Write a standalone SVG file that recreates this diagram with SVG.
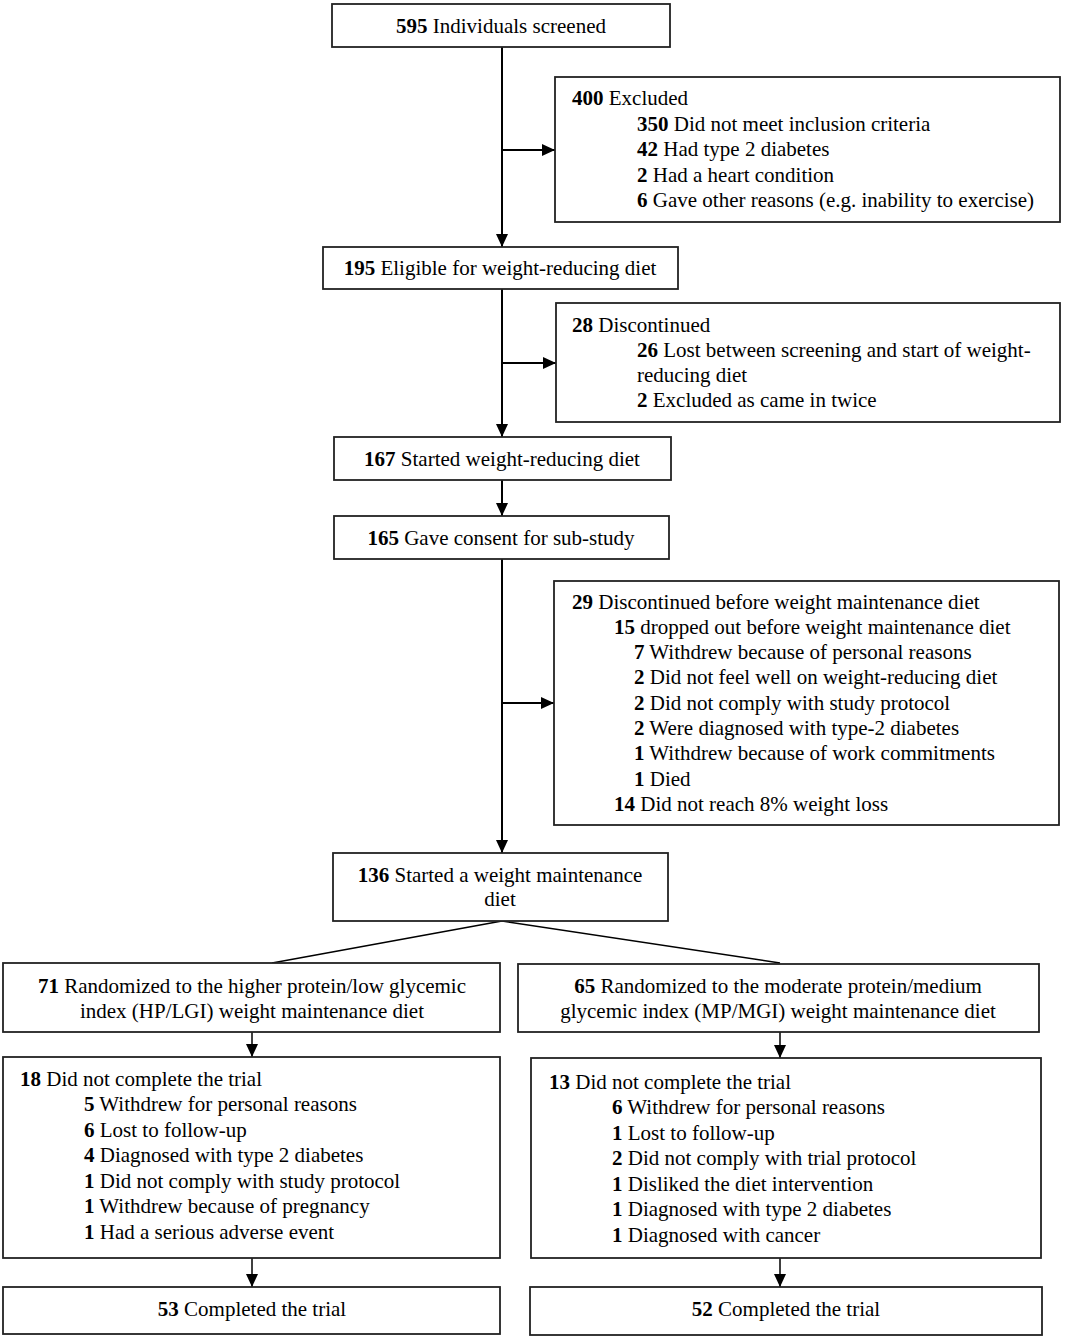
<svg xmlns="http://www.w3.org/2000/svg" width="1065" height="1339" viewBox="0 0 1065 1339">
<style>
.box{fill:#fff;stroke:#222;stroke-width:1.8}
.ln{fill:none;stroke:#000;stroke-width:2}
.ln2{fill:none;stroke:#000;stroke-width:1.5}
text{font-family:"Liberation Serif","Times New Roman",serif;font-size:21px;fill:#000}
.c{text-anchor:middle}
.b{font-weight:bold}
</style>
<defs>
<marker id="ah" markerUnits="userSpaceOnUse" markerWidth="14" markerHeight="12" refX="13" refY="6" orient="auto">
<path d="M0,0 L13,6 L0,12 z" fill="#000"/>
</marker>
</defs>
<rect width="1065" height="1339" fill="#fff"/>
<g id="connectors">
<line class="ln" x1="502" y1="47" x2="502" y2="247" marker-end="url(#ah)"/>
<line class="ln" x1="502" y1="150" x2="555" y2="150" marker-end="url(#ah)"/>
<line class="ln" x1="502" y1="289" x2="502" y2="437" marker-end="url(#ah)"/>
<line class="ln" x1="502" y1="363" x2="556" y2="363" marker-end="url(#ah)"/>
<line class="ln" x1="502" y1="480" x2="502" y2="516" marker-end="url(#ah)"/>
<line class="ln" x1="502" y1="559" x2="502" y2="853" marker-end="url(#ah)"/>
<line class="ln" x1="502" y1="703" x2="554" y2="703" marker-end="url(#ah)"/>
<line class="ln2" x1="502" y1="921" x2="272" y2="963"/>
<line class="ln2" x1="502" y1="921" x2="780" y2="963"/>
<line class="ln2" x1="252" y1="1032" x2="252" y2="1057" marker-end="url(#ah)"/>
<line class="ln2" x1="780" y1="1032" x2="780" y2="1058" marker-end="url(#ah)"/>
<line class="ln2" x1="252" y1="1258" x2="252" y2="1287" marker-end="url(#ah)"/>
<line class="ln2" x1="780" y1="1258" x2="780" y2="1287" marker-end="url(#ah)"/>
</g>
<g id="n595">
<rect class="box" x="332" y="4" width="338" height="43"/>
<text class="c" x="501" y="33"><tspan class="b">595</tspan> Individuals screened</text>
</g>
<g id="n400">
<rect class="box" x="555" y="77" width="505" height="145"/>
<text x="572" y="105"><tspan class="b">400</tspan> Excluded</text>
<text x="637" y="131"><tspan class="b">350</tspan> Did not meet inclusion criteria</text>
<text x="637" y="156"><tspan class="b">42</tspan> Had type 2 diabetes</text>
<text x="637" y="182"><tspan class="b">2</tspan> Had a heart condition</text>
<text x="637" y="207"><tspan class="b">6</tspan> Gave other reasons (e.g. inability to exercise)</text>
</g>
<g id="n195">
<rect class="box" x="323" y="247" width="355" height="42"/>
<text class="c" x="500" y="275"><tspan class="b">195</tspan> Eligible for weight-reducing diet</text>
</g>
<g id="n28">
<rect class="box" x="556" y="303" width="504" height="119"/>
<text x="572" y="332"><tspan class="b">28</tspan> Discontinued</text>
<text x="637" y="357"><tspan class="b">26</tspan> Lost between screening and start of weight-</text>
<text x="637" y="382">reducing diet</text>
<text x="637" y="407"><tspan class="b">2</tspan> Excluded as came in twice</text>
</g>
<g id="n167">
<rect class="box" x="334" y="437" width="337" height="43"/>
<text class="c" x="502" y="466"><tspan class="b">167</tspan> Started weight-reducing diet</text>
</g>
<g id="n165">
<rect class="box" x="334" y="516" width="335" height="43"/>
<text class="c" x="501" y="545"><tspan class="b">165</tspan> Gave consent for sub-study</text>
</g>
<g id="n29">
<rect class="box" x="554" y="581" width="505" height="244"/>
<text x="572" y="609"><tspan class="b">29</tspan> Discontinued before weight maintenance diet</text>
<text x="614" y="634"><tspan class="b">15</tspan> dropped out before weight maintenance diet</text>
<text x="634" y="659"><tspan class="b">7</tspan> Withdrew because of personal reasons</text>
<text x="634" y="684"><tspan class="b">2</tspan> Did not feel well on weight-reducing diet</text>
<text x="634" y="710"><tspan class="b">2</tspan> Did not comply with study protocol</text>
<text x="634" y="735"><tspan class="b">2</tspan> Were diagnosed with type-2 diabetes</text>
<text x="634" y="760"><tspan class="b">1</tspan> Withdrew because of work commitments</text>
<text x="634" y="786"><tspan class="b">1</tspan> Died</text>
<text x="614" y="811"><tspan class="b">14</tspan> Did not reach 8% weight loss</text>
</g>
<g id="n136">
<rect class="box" x="333" y="853" width="335" height="68"/>
<text class="c" x="500" y="882"><tspan class="b">136</tspan> Started a weight maintenance</text>
<text class="c" x="500" y="906">diet</text>
</g>
<g id="n71">
<rect class="box" x="3" y="963" width="497" height="69"/>
<text class="c" x="252" y="993"><tspan class="b">71</tspan> Randomized to the higher protein/low glycemic</text>
<text class="c" x="252" y="1018">index (HP/LGI) weight maintenance diet</text>
</g>
<g id="n65">
<rect class="box" x="518" y="964" width="521" height="68"/>
<text class="c" x="778" y="993"><tspan class="b">65</tspan> Randomized to the moderate protein/medium</text>
<text class="c" x="778" y="1018">glycemic index (MP/MGI) weight maintenance diet</text>
</g>
<g id="n18">
<rect class="box" x="3" y="1057" width="497" height="201"/>
<text x="20" y="1086"><tspan class="b">18</tspan> Did not complete the trial</text>
<text x="84" y="1111"><tspan class="b">5</tspan> Withdrew for personal reasons</text>
<text x="84" y="1137"><tspan class="b">6</tspan> Lost to follow-up</text>
<text x="84" y="1162"><tspan class="b">4</tspan> Diagnosed with type 2 diabetes</text>
<text x="84" y="1188"><tspan class="b">1</tspan> Did not comply with study protocol</text>
<text x="84" y="1213"><tspan class="b">1</tspan> Withdrew because of pregnancy</text>
<text x="84" y="1239"><tspan class="b">1</tspan> Had a serious adverse event</text>
</g>
<g id="n13">
<rect class="box" x="531" y="1058" width="510" height="200"/>
<text x="549" y="1089"><tspan class="b">13</tspan> Did not complete the trial</text>
<text x="612" y="1114"><tspan class="b">6</tspan> Withdrew for personal reasons</text>
<text x="612" y="1140"><tspan class="b">1</tspan> Lost to follow-up</text>
<text x="612" y="1165"><tspan class="b">2</tspan> Did not comply with trial protocol</text>
<text x="612" y="1191"><tspan class="b">1</tspan> Disliked the diet intervention</text>
<text x="612" y="1216"><tspan class="b">1</tspan> Diagnosed with type 2 diabetes</text>
<text x="612" y="1242"><tspan class="b">1</tspan> Diagnosed with cancer</text>
</g>
<g id="n53">
<rect class="box" x="3" y="1287" width="497" height="47"/>
<text class="c" x="252" y="1316"><tspan class="b">53</tspan> Completed the trial</text>
</g>
<g id="n52">
<rect class="box" x="530" y="1287" width="512" height="48"/>
<text class="c" x="786" y="1316"><tspan class="b">52</tspan> Completed the trial</text>
</g>
</svg>
